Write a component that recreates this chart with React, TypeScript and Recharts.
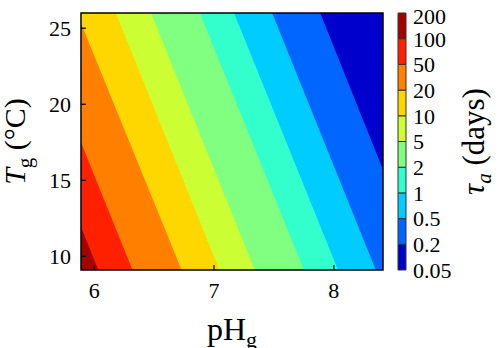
import { ComposedChart, Area, BarChart, Bar, XAxis, YAxis, CartesianGrid, ReferenceArea, Label } from 'recharts'

// temperatures where each contour boundary was read (top and bottom of the plot)
const rowTemps = [26, 9]

// pH position of each contour boundary at T = 26 and T = 9 (levels 0.2 ... 100 days)
const boundaryLevels = [0.2, 0.5, 1, 2, 5, 10, 20, 50, 100]
const boundaryPHTop = [7.886, 7.485, 7.167, 6.883, 6.474, 6.181, 5.855, 5.454, 5.17]
const boundaryPHBottom = [8.75, 8.355, 8.04, 7.755, 7.345, 7.05, 6.735, 6.325, 6.04]

// band colours, low tau -> high tau
const bandColors = ['#0000cc', '#0066ff', '#00ccff', '#33ffcc', '#80ff80', '#ccff33', '#ffd700', '#ff8000', '#ff2000', '#a50000']
const colorbarLabels = ['0.05', '0.2', '0.5', '1', '2', '5', '10', '20', '50', '100', '200']

const pHTicks = [6, 7, 8]
const tempTicks = [10, 15, 20, 25]

const serif = 'Liberation Serif, Times New Roman, Times, serif'

const contourRows = rowTemps.map((T, r) => {
  const row: Record<string, number> = { T }
  boundaryLevels.forEach((_, i) => {
    row['b' + i] = r === 0 ? boundaryPHTop[i] : boundaryPHBottom[i]
  })
  return row
})

const colorbarRow: Record<string, any> = { name: 'cb' }
bandColors.forEach((_, i) => {
  colorbarRow['s' + i] = 1
})

function XTitle(props: any) {
  const vb = props.viewBox
  return (
    <text x={vb.x + vb.width / 2} y={vb.y + 69.5} textAnchor="middle" style={{ fontFamily: serif }} fontSize={32} fill="#000">
      pH<tspan fontSize={22} dy={7}>g</tspan>
    </text>
  )
}

function YTitle(props: any) {
  const vb = props.viewBox
  return (
    <text transform={`translate(25, ${vb.y + vb.height / 2}) rotate(-90)`} textAnchor="middle" style={{ fontFamily: serif }} fontSize={30} fill="#000">
      <tspan fontStyle="italic">T</tspan>
      <tspan fontSize={21} dy={7}>g</tspan>
      <tspan dy={-7}> (°C)</tspan>
    </text>
  )
}

function TauTitle(props: any) {
  const vb = props.viewBox
  return (
    <text transform={`translate(484, ${vb.y + vb.height / 2}) rotate(-90)`} textAnchor="middle" style={{ fontFamily: serif }} fontSize={31} fill="#000">
      <tspan fontStyle="italic">τ</tspan>
      <tspan fontSize={21} dy={7} fontStyle="italic">a</tspan>
      <tspan dy={-7}> (days)</tspan>
    </text>
  )
}

function AxisTick(props: any) {
  const { x, y, payload, textAnchor, verticalAnchor } = props
  const dy = verticalAnchor === 'start' ? '0.71em' : '0.355em'
  return (
    <text x={x} y={y} dy={dy} textAnchor={textAnchor} style={{ fontFamily: serif }} fontSize={22} fill="#000">
      {payload.value}
    </text>
  )
}

function ColorbarTick(props: any) {
  const { x, y, payload } = props
  // top label sits a little lower than its boundary
  const shift = payload.value === 10 ? 3 : 0
  return (
    <text x={x} y={y + shift} dy="0.355em" textAnchor="start" style={{ fontFamily: serif }} fontSize={22} fill="#000">
      {colorbarLabels[payload.value]}
    </text>
  )
}

export default function App() {
  return (
    <div style={{ position: 'fixed', left: 0, top: 0, width: 500, height: 348, background: '#fff' }}>
      <div style={{ position: 'absolute', left: 0, top: 0 }}>
        <ComposedChart
          width={500}
          height={348}
          layout="vertical"
          data={contourRows}
          margin={{ top: 13, right: 117, bottom: 48, left: 41 }}
        >
          <CartesianGrid fill={bandColors[0]} horizontal={false} vertical={false} />
          {boundaryLevels.map((lvl, i) => (
            <Area
              key={lvl}
              type="linear"
              dataKey={'b' + i}
              stroke="none"
              fill={bandColors[i + 1]}
              fillOpacity={1}
              dot={false}
              activeDot={false}
              isAnimationActive={false}
            />
          ))}
          <XAxis
            type="number"
            domain={[5.89, 8.41]}
            allowDataOverflow
            ticks={pHTicks}
            height={30}
            axisLine={false}
            tickSize={-5}
            tickMargin={17}
            tickLine={{ stroke: '#000', strokeWidth: 1.2 }}
            tick={AxisTick}
          >
            <Label content={XTitle} />
          </XAxis>
          <YAxis
            type="number"
            dataKey="T"
            domain={[9.1, 26]}
            reversed
            allowDataOverflow
            ticks={tempTicks}
            width={40}
            axisLine={false}
            tickSize={-5}
            tickMargin={15}
            tickLine={{ stroke: '#000', strokeWidth: 1.2 }}
            tick={AxisTick}
          >
            <Label content={YTitle} />
          </YAxis>
          <ReferenceArea x1={5.89} x2={8.41} y1={9.1} y2={26} fill="none" fillOpacity={0} stroke="#000" strokeWidth={1.5} />
        </ComposedChart>
      </div>
      <div style={{ position: 'absolute', left: 0, top: 0 }}>
        <BarChart
          width={500}
          height={348}
          data={[colorbarRow]}
          barCategoryGap={0}
          margin={{ top: 13, right: 34, bottom: 78, left: 398 }}
        >
          <XAxis dataKey="name" hide />
          <YAxis
            orientation="right"
            type="number"
            domain={[0, 10]}
            ticks={[0, 1, 2, 3, 4, 5, 6, 7, 8, 9, 10]}
            interval={0}
            width={60}
            axisLine={false}
            tickLine={false}
            tickSize={0}
            tickMargin={7}
            tick={ColorbarTick}
          >
            <Label content={TauTitle} />
          </YAxis>
          {bandColors.map((c, i) => (
            <Bar key={c} dataKey={'s' + i} stackId="cb" fill={c} stroke="#333" strokeWidth={1} isAnimationActive={false} />
          ))}
        </BarChart>
      </div>
    </div>
  )
}
